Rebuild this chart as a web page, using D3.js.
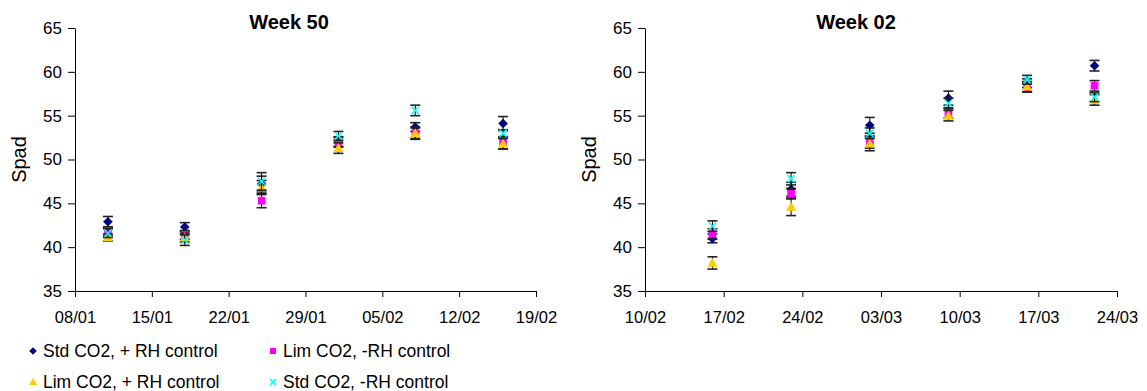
<!DOCTYPE html>
<html>
<head>
<meta charset="utf-8">
<script src="https://cdn.jsdelivr.net/npm/d3@7"></script>
<style>
  body { margin: 0; background: #fff; }
  svg { font-family: "Liberation Sans", Arial, sans-serif; }
  .axis path, .axis line { stroke: #000; }
  .axis text { fill: #000; font-size: 16.5px; }
</style>
</head>
<body>
<svg class="chart" width="1147" height="391"></svg>
<script>
// series names, in legend order
const seriesNames = ["Std CO2, + RH control", "Lim CO2, -RH control", "Lim CO2, + RH control", "Std CO2, -RH control"];
const seriesColours = ["#000080", "#FF00FF", "#FFCC00", "#00FFFF"];
const seriesShapes = ["diamond", "square", "triangle", "cross"];

const yTicks = [35, 40, 45, 50, 55, 60, 65];

// Week 50
const wk50Dates = ["11/01", "18/01", "25/01", "01/02", "08/02", "16/02"];
const wk50Ticks = ["08/01", "15/01", "22/01", "29/01", "05/02", "12/02", "19/02"];
const wk50StdRh = [42.9, 42.3, 47.2, 52.0, 53.7, 54.1];
const wk50StdRhErr = [0.6, 0.5, 0.9, 0.5, 0.5, 0.8];
const wk50LimNoRh = [41.8, 41.4, 45.3, 52.0, 53.0, 51.9];
const wk50LimNoRhErr = [0.5, 0.5, 0.8, 0.6, 0.6, 0.7];
const wk50LimRh = [41.1, 41.1, 46.8, 51.3, 53.0, 51.8];
const wk50LimRhErr = [0.4, 0.5, 0.8, 0.6, 0.7, 0.6];
const wk50StdNoRh = [41.6, 40.8, 47.5, 52.7, 55.6, 53.0];
const wk50StdNoRhErr = [0.5, 0.6, 1.0, 0.5, 0.6, 0.4];

// Week 02
const wk02Dates = ["16/02", "23/02", "02/03", "09/03", "16/03", "22/03"];
const wk02Ticks = ["10/02", "17/02", "24/02", "03/03", "10/03", "17/03", "24/03"];
const wk02StdRh = [41.0, 46.6, 53.9, 57.0, 58.7, 60.7];
const wk02StdRhErr = [0.5, 0.8, 0.9, 0.8, 0.5, 0.6];
const wk02LimNoRh = [41.5, 46.1, 52.0, 55.3, 58.2, 58.4];
const wk02LimNoRhErr = [0.6, 0.6, 0.7, 0.6, 0.5, 0.6];
const wk02LimRh = [38.2, 44.6, 51.8, 55.0, 58.3, 56.8];
const wk02LimRhErr = [0.7, 1.0, 0.8, 0.6, 0.6, 0.6];
const wk02StdNoRh = [42.4, 47.8, 53.0, 56.4, 59.1, 57.1];
const wk02StdNoRhErr = [0.6, 0.7, 0.6, 0.6, 0.5, 0.5];

const parseDay = d3.timeParse("%d/%m/%Y");
const toDate = (s) => parseDay(s + "/2010");

const panels = [
    {title: "Week 50", left: 75, right: 536, titleX: 289, dates: wk50Dates, ticks: wk50Ticks,
     values: [wk50StdRh, wk50LimNoRh, wk50LimRh, wk50StdNoRh],
     errors: [wk50StdRhErr, wk50LimNoRhErr, wk50LimRhErr, wk50StdNoRhErr]},
    {title: "Week 02", left: 645, right: 1117, titleX: 856, dates: wk02Dates, ticks: wk02Ticks,
     values: [wk02StdRh, wk02LimNoRh, wk02LimRh, wk02StdNoRh],
     errors: [wk02StdRhErr, wk02LimNoRhErr, wk02LimRhErr, wk02StdNoRhErr]}
];

const plotTop = 28, plotBottom = 291;
const svg = d3.select(".chart");

function marker(g, shape, colour, s) {
    if (shape === "diamond") {
        g.append("path")
            .attr("d", `M0,${-s}L${s},0L0,${s}L${-s},0Z`)
            .style("fill", colour);
    } else if (shape === "square") {
        g.append("rect")
            .attr("x", -s * 0.8).attr("y", -s * 0.8)
            .attr("width", s * 1.6).attr("height", s * 1.6)
            .style("fill", colour);
    } else if (shape === "triangle") {
        g.append("path")
            .attr("d", `M0,${-s * 1.05}L${s * 1.05},${s * 0.8}L${-s * 1.05},${s * 0.8}Z`)
            .style("fill", colour);
    } else {
        const c = s * 0.75;
        g.append("path")
            .attr("d", `M${-c},${-c}L${c},${c}M${-c},${c}L${c},${-c}`)
            .style("stroke", colour)
            .style("stroke-width", 1.6)
            .style("fill", "none");
    }
}

panels.forEach((p) => {
    const tickDates = p.ticks.map(toDate);
    const x = d3.scaleTime()
        .domain([tickDates[0], tickDates[tickDates.length - 1]])
        .range([p.left, p.right]);
    const y = d3.scaleLinear()
        .domain([35, 65])
        .range([plotBottom, plotTop]);

    svg.append("g")
        .attr("class", "axis")
        .attr("transform", `translate(0,${plotBottom})`)
        .call(d3.axisBottom(x).tickValues(tickDates).tickFormat(d3.timeFormat("%d/%m")).tickSize(6).tickSizeOuter(0))
        .call(g => g.selectAll("text").attr("dy", "1.4em"));

    svg.append("g")
        .attr("class", "axis")
        .attr("transform", `translate(${p.left},0)`)
        .call(d3.axisLeft(y).tickValues(yTicks).tickSize(7).tickSizeOuter(0))
        .call(g => g.selectAll("text").attr("x", -13).style("font-size", "17px"));

    svg.append("text")
        .attr("transform", `translate(${p.left - 49},${(plotTop + plotBottom) / 2}) rotate(-90)`)
        .attr("text-anchor", "middle")
        .style("font-size", "20px")
        .text("Spad");

    svg.append("text")
        .attr("x", p.titleX)
        .attr("y", 29)
        .attr("text-anchor", "middle")
        .style("font-size", "20px")
        .style("font-weight", "bold")
        .text(p.title);

    // error bars, then markers, series in order
    p.values.forEach((vals, si) => {
        const pts = vals.map((v, i) => ({date: toDate(p.dates[i]), v: v, e: p.errors[si][i]}));
        const eb = svg.append("g").attr("class", "errbars");
        pts.forEach((d) => {
            const cx = x(d.date);
            eb.append("line")
                .attr("x1", cx).attr("x2", cx)
                .attr("y1", y(d.v + d.e)).attr("y2", y(d.v - d.e))
                .style("stroke", "#000").style("stroke-width", 1);
            [d.v + d.e, d.v - d.e].forEach((yy) => {
                eb.append("line")
                    .attr("x1", cx - 5).attr("x2", cx + 5)
                    .attr("y1", y(yy)).attr("y2", y(yy))
                    .style("stroke", "#222").style("stroke-width", 1.6);
            });
        });
        pts.forEach((d) => {
            const g = svg.append("g")
                .attr("class", "circle")
                .attr("transform", `translate(${x(d.date)},${y(d.v)})`);
            marker(g, seriesShapes[si], seriesColours[si], 4.8);
        });
    });
});

// legend
const legendPos = [[33, 351], [273, 351], [33, 382], [273, 382]];
seriesNames.forEach((name, i) => {
    const g = svg.append("g")
        .attr("transform", `translate(${legendPos[i][0]},${legendPos[i][1]})`);
    marker(g, seriesShapes[i], seriesColours[i], 3.8);
    g.append("text")
        .attr("x", 10)
        .attr("y", 6)
        .style("font-size", "17.5px")
        .text(name);
});
</script>
</body>
</html>
